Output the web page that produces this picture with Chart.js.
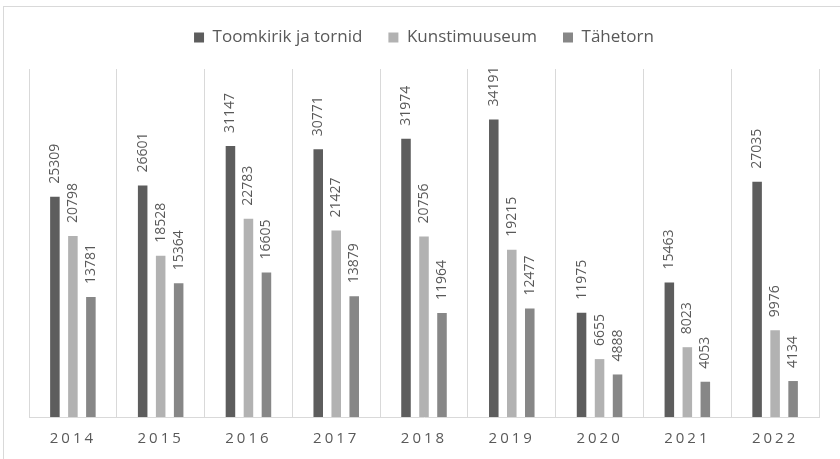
<!DOCTYPE html>
<html>
<head>
<meta charset="utf-8">
<script src="https://cdn.jsdelivr.net/npm/chart.js@4/dist/chart.umd.min.js"></script>
<style>
  html, body { margin: 0; padding: 0; background: #fff; overflow: hidden; }
  #frame { position: absolute; left: 3px; top: 6px; width: 900px; height: 500px;
           border-left: 1px solid #d9d9d9; border-top: 1px solid #d9d9d9; }
  #wrap { position: absolute; left: 0; top: 0; width: 840px; height: 459px; }
</style>
</head>
<body>
<div id="frame"></div>
<div id="wrap"><canvas id="c" width="840" height="459"></canvas></div>
<script>
const years = ['2014','2015','2016','2017','2018','2019','2020','2021','2022'];
const toomkirik = [25309, 26601, 31147, 30771, 31974, 34191, 11975, 15463, 27035];
const kunstimuuseum = [20798, 18528, 22783, 21427, 20756, 19215, 6655, 8023, 9976];
const tahetorn = [13781, 15364, 16605, 13879, 11964, 12477, 4888, 4053, 4134];
const seriesNames = ['Toomkirik ja tornid', 'Kunstimuuseum', 'Tähetorn'];
const seriesColors = ['#5d5d5d', '#b2b2b2', '#878787'];

const FONT = "'Open Sans', 'Liberation Sans', sans-serif";
const TEXT = '#595959';

const valueLabels = {
  id: 'valueLabels',
  afterDatasetsDraw(chart) {
    const ctx = chart.ctx;
    ctx.save();
    ctx.font = '14px ' + FONT;
    ctx.fillStyle = TEXT;
    ctx.textAlign = 'left';
    ctx.textBaseline = 'middle';
    chart.data.datasets.forEach((ds, i) => {
      const meta = chart.getDatasetMeta(i);
      meta.data.forEach((bar, j) => {
        ctx.save();
        ctx.translate(bar.x, bar.y - 13);
        ctx.rotate(-Math.PI / 2);
        ctx.fillText(String(ds.data[j]), 0, 0);
        ctx.restore();
      });
    });
    ctx.restore();
  }
};

const tweaks = {
  id: 'tweaks',
  beforeLayout(chart) {
    const lg = chart.legend;
    if (lg && !lg._patched) {
      const f = lg.fit;
      lg.fit = function () { f.call(this); this.height += 13; };
      lg._patched = true;
    }
    const xs = chart.scales.x;
    if (xs && !xs._patched) {
      const d = xs.drawLabels;
      xs.drawLabels = function (ca) {
        const c = this.ctx;
        c.save();
        c.letterSpacing = '3px';
        d.call(this, ca);
        c.restore();
      };
      xs._patched = true;
    }
  }
};

new Chart(document.getElementById('c'), {
  type: 'bar',
  data: {
    labels: years,
    datasets: [
      { label: seriesNames[0], data: toomkirik, backgroundColor: seriesColors[0] },
      { label: seriesNames[1], data: kunstimuuseum, backgroundColor: seriesColors[1] },
      { label: seriesNames[2], data: tahetorn, backgroundColor: seriesColors[2] }
    ]
  },
  options: {
    responsive: false,
    animation: false,
    devicePixelRatio: 1,
    layout: { padding: { left: 29, right: 21, top: 3, bottom: 0 } },
    datasets: { bar: { categoryPercentage: 0.615, barPercentage: 0.53 } },
    plugins: {
      legend: {
        position: 'top',
        labels: {
          boxWidth: 10, boxHeight: 10, padding: 26,
          color: TEXT, font: { family: FONT, size: 17 }
        }
      },
      tooltip: { enabled: false }
    },
    scales: {
      x: {
        grid: { color: '#d9d9d9', lineWidth: 1, offset: true, drawTicks: false },
        border: { color: '#d9d9d9' },
        ticks: { color: TEXT, font: { family: FONT, size: 15 }, padding: 13, maxRotation: 0 },
        afterFit(s) { s.height = 42; }
      },
      y: {
        display: false,
        min: 0, max: 40000
      }
    }
  },
  plugins: [valueLabels, tweaks]
});
</script>
</body>
</html>
